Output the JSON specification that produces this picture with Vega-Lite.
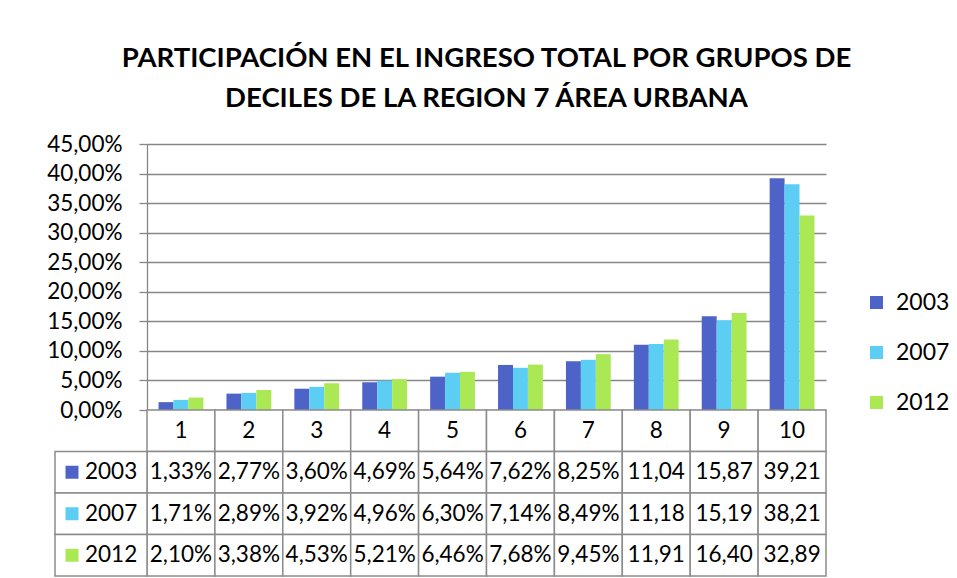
{
  "$schema": "https://vega.github.io/schema/vega-lite/v6.json",
  "width": 679,
  "height": 432,
  "autosize": {"type": "none"},
  "padding": {"left": 147, "top": 144, "right": 131, "bottom": 2},
  "background": "white",
  "config": {"view": {"stroke": null}, "font": "Lato"},
  "title": {
    "text": ["PARTICIPACIÓN EN EL INGRESO TOTAL POR GRUPOS DE", "DECILES DE LA REGION 7 ÁREA URBANA"],
    "font": "Lato", "fontSize": 27.5, "fontWeight": "bold", "color": "black",
    "anchor": "middle", "frame": "group", "lineHeight": 40, "offset": 21
  },
  "data": {"values": [
    {"decile": "1", "year": "2003", "value": 0.0133, "label": "1,33%"},
    {"decile": "2", "year": "2003", "value": 0.0277, "label": "2,77%"},
    {"decile": "3", "year": "2003", "value": 0.0360, "label": "3,60%"},
    {"decile": "4", "year": "2003", "value": 0.0469, "label": "4,69%"},
    {"decile": "5", "year": "2003", "value": 0.0564, "label": "5,64%"},
    {"decile": "6", "year": "2003", "value": 0.0762, "label": "7,62%"},
    {"decile": "7", "year": "2003", "value": 0.0825, "label": "8,25%"},
    {"decile": "8", "year": "2003", "value": 0.1104, "label": "11,04"},
    {"decile": "9", "year": "2003", "value": 0.1587, "label": "15,87"},
    {"decile": "10", "year": "2003", "value": 0.3921, "label": "39,21"},
    {"decile": "1", "year": "2007", "value": 0.0171, "label": "1,71%"},
    {"decile": "2", "year": "2007", "value": 0.0289, "label": "2,89%"},
    {"decile": "3", "year": "2007", "value": 0.0392, "label": "3,92%"},
    {"decile": "4", "year": "2007", "value": 0.0496, "label": "4,96%"},
    {"decile": "5", "year": "2007", "value": 0.0630, "label": "6,30%"},
    {"decile": "6", "year": "2007", "value": 0.0714, "label": "7,14%"},
    {"decile": "7", "year": "2007", "value": 0.0849, "label": "8,49%"},
    {"decile": "8", "year": "2007", "value": 0.1118, "label": "11,18"},
    {"decile": "9", "year": "2007", "value": 0.1519, "label": "15,19"},
    {"decile": "10", "year": "2007", "value": 0.3821, "label": "38,21"},
    {"decile": "1", "year": "2012", "value": 0.0210, "label": "2,10%"},
    {"decile": "2", "year": "2012", "value": 0.0338, "label": "3,38%"},
    {"decile": "3", "year": "2012", "value": 0.0453, "label": "4,53%"},
    {"decile": "4", "year": "2012", "value": 0.0521, "label": "5,21%"},
    {"decile": "5", "year": "2012", "value": 0.0646, "label": "6,46%"},
    {"decile": "6", "year": "2012", "value": 0.0768, "label": "7,68%"},
    {"decile": "7", "year": "2012", "value": 0.0945, "label": "9,45%"},
    {"decile": "8", "year": "2012", "value": 0.1191, "label": "11,91"},
    {"decile": "9", "year": "2012", "value": 0.1640, "label": "16,40"},
    {"decile": "10", "year": "2012", "value": 0.3289, "label": "32,89"}
  ]},
  "layer": [
    {
      "mark": {"type": "bar"},
      "encoding": {
        "x": {"field": "decile", "type": "ordinal", "sort": ["1","2","3","4","5","6","7","8","9","10"],
              "scale": {"paddingInner": 0.34, "paddingOuter": 0.17}, "axis": null},
        "xOffset": {"field": "year", "type": "nominal", "sort": ["2003","2007","2012"]},
        "y": {"field": "value", "type": "quantitative",
              "scale": {"domain": [0, 0.45], "range": [266, 0], "nice": false, "zero": true},
              "axis": {"title": null, "values": [0,0.05,0.1,0.15,0.2,0.25,0.3,0.35,0.4,0.45],
                       "labelExpr": "replace(format(datum.value, '.2%'), '.', ',')",
                       "labelFont": "Lato", "labelFontSize": 22.5, "labelColor": "black",
                       "labelPadding": 17, "tickSize": 8, "tickColor": "#868686", "tickWidth": 1.3,
                       "domainColor": "#868686", "domainWidth": 1.3,
                       "grid": true, "gridColor": "#868686", "gridWidth": 1.3}},
        "color": {"field": "year", "type": "nominal",
                  "scale": {"domain": ["2003","2007","2012"], "range": ["#4e63c8","#5ccdf3","#aae953"]},
                  "legend": {"title": null, "orient": "none", "legendX": 718, "legendY": 147,
                             "symbolType": "square", "symbolSize": 169, "symbolStrokeWidth": 0,
                             "labelFont": "Lato", "labelFontSize": 23, "labelColor": "black",
                             "labelOffset": 8, "rowPadding": 26}}
      }
    },
    {
      "transform": [{"filter": "datum.year == '2003'"}],
      "mark": {"type": "rect", "fill": "white", "stroke": "#8c8c8c", "strokeWidth": 1.5},
      "encoding": {
        "x": {"field": "decile", "type": "ordinal", "sort": ["1","2","3","4","5","6","7","8","9","10"],
              "scale": {"paddingInner": 0, "paddingOuter": 0}, "axis": null},
        "y": {"datum": "h", "type": "ordinal",
              "scale": {"domain": ["h","2003","2007","2012"], "range": [266, 432], "paddingInner": 0, "paddingOuter": 0}, "axis": null}
      }
    },
    {
      "transform": [{"filter": "datum.year == '2003'"}],
      "mark": {"type": "text", "font": "Lato", "fontSize": 22.5, "color": "black", "align": "center", "baseline": "middle"},
      "encoding": {
        "x": {"field": "decile", "type": "ordinal", "sort": ["1","2","3","4","5","6","7","8","9","10"],
              "scale": {"paddingInner": 0, "paddingOuter": 0}, "axis": null},
        "y": {"datum": "h", "type": "ordinal",
              "scale": {"domain": ["h","2003","2007","2012"], "range": [266, 432], "paddingInner": 0, "paddingOuter": 0}, "axis": null},
        "text": {"field": "decile"}
      }
    },
    {
      "mark": {"type": "rect", "fill": "white", "stroke": "#8c8c8c", "strokeWidth": 1.5},
      "encoding": {
        "x": {"field": "decile", "type": "ordinal", "sort": ["1","2","3","4","5","6","7","8","9","10"],
              "scale": {"paddingInner": 0, "paddingOuter": 0}, "axis": null},
        "y": {"field": "year", "type": "ordinal",
              "scale": {"domain": ["h","2003","2007","2012"], "range": [266, 432], "paddingInner": 0, "paddingOuter": 0}, "axis": null}
      }
    },
    {
      "mark": {"type": "text", "font": "Lato", "fontSize": 22.5, "color": "black", "align": "center", "baseline": "middle"},
      "encoding": {
        "x": {"field": "decile", "type": "ordinal", "sort": ["1","2","3","4","5","6","7","8","9","10"],
              "scale": {"paddingInner": 0, "paddingOuter": 0}, "axis": null},
        "y": {"field": "year", "type": "ordinal",
              "scale": {"domain": ["h","2003","2007","2012"], "range": [266, 432], "paddingInner": 0, "paddingOuter": 0}, "axis": null},
        "text": {"field": "label"}
      }
    },
    {
      "transform": [{"filter": "datum.decile == '1'"}],
      "mark": {"type": "rect", "fill": "white", "stroke": "#8c8c8c", "strokeWidth": 1.5},
      "encoding": {
        "x": {"datum": 0, "type": "quantitative", "scale": {"domain": [0, 92], "range": [-92, 0], "zero": false, "nice": false}, "axis": null},
        "x2": {"datum": 92},
        "y": {"field": "year", "type": "ordinal",
              "scale": {"domain": ["h","2003","2007","2012"], "range": [266, 432], "paddingInner": 0, "paddingOuter": 0}, "axis": null}
      }
    },
    {
      "transform": [{"filter": "datum.decile == '1'"}],
      "mark": {"type": "point", "shape": "square", "filled": true, "size": 169, "opacity": 1, "strokeWidth": 0},
      "encoding": {
        "x": {"datum": 17, "type": "quantitative", "scale": {"domain": [0, 92], "range": [-92, 0], "zero": false, "nice": false}, "axis": null},
        "y": {"field": "year", "type": "ordinal",
              "scale": {"domain": ["h","2003","2007","2012"], "range": [266, 432], "paddingInner": 0, "paddingOuter": 0}, "axis": null},
        "fill": {"field": "year", "type": "nominal",
                 "scale": {"domain": ["2003","2007","2012"], "range": ["#4e63c8","#5ccdf3","#aae953"]}, "legend": null}
      }
    },
    {
      "transform": [{"filter": "datum.decile == '1'"}],
      "mark": {"type": "text", "font": "Lato", "fontSize": 22.5, "color": "black", "align": "left", "baseline": "middle"},
      "encoding": {
        "x": {"datum": 30, "type": "quantitative", "scale": {"domain": [0, 92], "range": [-92, 0], "zero": false, "nice": false}, "axis": null},
        "y": {"field": "year", "type": "ordinal",
              "scale": {"domain": ["h","2003","2007","2012"], "range": [266, 432], "paddingInner": 0, "paddingOuter": 0}, "axis": null},
        "text": {"field": "year"}
      }
    }
  ],
  "resolve": {"scale": {"x": "independent", "y": "independent"}}
}
